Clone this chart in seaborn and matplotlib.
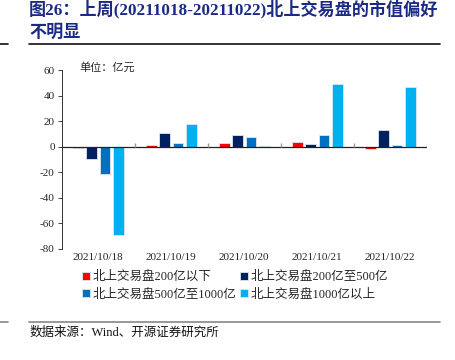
import pandas as pd
import matplotlib
matplotlib.use("Agg")
import matplotlib.pyplot as plt
import seaborn as sns
from matplotlib.lines import Line2D

# chart data (亿元)
dates = ["2021/10/18", "2021/10/19", "2021/10/20", "2021/10/21", "2021/10/22"]
series_names = ["北上交易盘200亿以下", "北上交易盘200亿至500亿",
                "北上交易盘500亿至1000亿", "北上交易盘1000亿以上"]
below_200 = [-1.0, 1.0, 3.1, 3.7, -1.5]
from_200_to_500 = [-9.6, 11.0, 9.1, 2.1, 13.0]
from_500_to_1000 = [-21.6, 2.9, 7.8, 9.1, 1.6]
above_1000 = [-69.3, 17.7, 0.8, 49.3, 46.7]
yticks = [60, 40, 20, 0, -20, -40, -60, -80]

colors = ["#FF0000", "#002060", "#0070C0", "#00B0F0"]

df = pd.DataFrame({"date": dates * 4,
                   "series": [s for s in series_names for _ in dates],
                   "value": below_200 + from_200_to_500 + from_500_to_1000 + above_1000})

sns.set_style("white")
plt.rcParams['font.family'] = ['Liberation Serif', 'Noto Sans CJK SC']

fig = plt.figure(figsize=(4.55, 3.6), dpi=100)
ax = fig.add_axes([61.7 / 455, 1 - 249 / 360, (426.7 - 61.7) / 455, (249 - 70) / 360])

sns.barplot(data=df, x="date", y="value", hue="series", palette=colors,
            saturation=1, width=0.73, gap=0.2, edgecolor="#dde6f0", linewidth=0.6,
            ax=ax, legend=True)

ax.set_xlim(-0.5, 4.5)
ax.set_ylim(-80, 60)
ax.set_yticks(yticks)
ax.set_yticklabels([str(t) for t in yticks], fontsize=8)
ax.tick_params(axis='y', length=3, width=0.6, direction='out', left=True, pad=2)
ax.tick_params(axis='x', length=0, labelsize=8, pad=3)
ax.set_xlabel("")
ax.set_ylabel("")
for s in ["top", "right", "bottom"]:
    ax.spines[s].set_visible(False)
ax.spines["left"].set_color("#333333")
ax.spines["left"].set_linewidth(0.7)

ax.axhline(0, color="#222222", linewidth=0.9, zorder=3)
ax.vlines([0.5, 1.5, 2.5, 3.5, 4.5], 0, 3, color="#999999", linewidth=1.0, zorder=3)

fig.text(79 / 455, 1 - 67 / 360, "单位：亿元", fontsize=8, va="center", ha="left")

# legend, row-wise order like the reference
handles, labels = ax.get_legend_handles_labels()
ax.get_legend().remove()
order = [0, 2, 1, 3]
fig.legend([handles[i] for i in order], [labels[i] for i in order], ncol=2,
           loc="upper left", bbox_to_anchor=(82 / 455, 1 - 271 / 360), frameon=False,
           fontsize=9, handlelength=0.6, handleheight=0.6, handletextpad=0.25,
           columnspacing=0.3, labelspacing=0.45, borderaxespad=0, borderpad=0)

# title
title_color = "#1b2a84"
fig.text(29 / 455, 1 - 9 / 360, "图26：上周(20211018-20211022)北上交易盘的市值偏好",
         fontsize=12.3, fontweight="bold", color=title_color, va="center", ha="left")
fig.text(29 / 455, 1 - 33 / 360, "不明显",
         fontsize=12.3, fontweight="bold", color=title_color, va="center", ha="left")

# separator lines
for y, c in [(44.3, "#111111"), (321.7, "#888888")]:
    yy = 1 - y / 360
    fig.add_artist(Line2D([0, 8 / 455], [yy, yy], color=c, linewidth=1.2))
    fig.add_artist(Line2D([29 / 455, 440 / 455], [yy, yy], color=c, linewidth=1.2))

fig.text(30 / 455, 1 - 333 / 360, "数据来源：Wind、开源证券研究所",
         fontsize=9, color="#111111", va="center", ha="left")

fig.savefig("out.png", dpi=100)
